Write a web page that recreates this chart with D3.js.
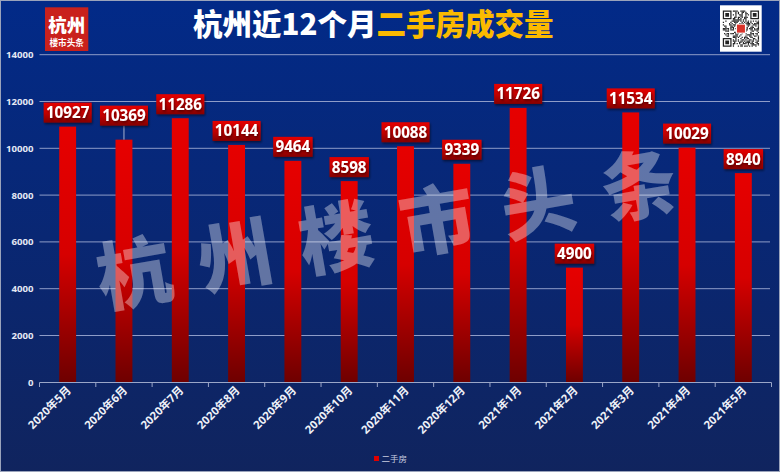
<!DOCTYPE html>
<html><head><meta charset="utf-8">
<script src="https://cdn.jsdelivr.net/npm/d3@7/dist/d3.min.js"></script>
<style>html,body{margin:0;padding:0;background:#0b2567;}svg{display:block;}</style>
</head><body><svg id="c" width="780" height="472"></svg>
<script>
const categories = ["2020年5月","2020年6月","2020年7月","2020年8月","2020年9月","2020年10月","2020年11月","2020年12月","2021年1月","2021年2月","2021年3月","2021年4月","2021年5月"];
const values = [10927,10369,11286,10144,9464,8598,10088,9339,11726,4900,11534,10029,8940];
const yTicks = [0,2000,4000,6000,8000,10000,12000,14000];
const seriesName = "二手房";
const titleWhite = "杭州近12个月";
const titleGold = "二手房成交量";
const watermark = ["杭","州","楼","市","头","条"];

const W = 780, H = 472;
const svg = d3.select("#c");
const defs = svg.append("defs");
const font = "'Noto Sans','Noto Sans CJK SC',sans-serif";

const bg = defs.append("linearGradient").attr("id","bg").attr("x1",0).attr("y1",0).attr("x2",0).attr("y2",1);
bg.append("stop").attr("offset",0).attr("stop-color","#022a88");
bg.append("stop").attr("offset",1).attr("stop-color","#10245e");
const bar = defs.append("linearGradient").attr("id","bar").attr("x1",0).attr("y1",0).attr("x2",0).attr("y2",1);
bar.append("stop").attr("offset",0).attr("stop-color","#e60000");
bar.append("stop").attr("offset",0.5).attr("stop-color","#d60000");
bar.append("stop").attr("offset",1).attr("stop-color","#6e0000");
const lab = defs.append("linearGradient").attr("id","lab").attr("x1",0).attr("y1",0).attr("x2",0).attr("y2",1);
lab.append("stop").attr("offset",0).attr("stop-color","#e40000");
lab.append("stop").attr("offset",0.5).attr("stop-color","#c40000");
lab.append("stop").attr("offset",1).attr("stop-color","#860000");
const sh = defs.append("filter").attr("id","sh").attr("x","-20%").attr("y","-20%").attr("width","140%").attr("height","160%");
sh.append("feDropShadow").attr("dx",1).attr("dy",1.5).attr("stdDeviation",1.2).attr("flood-color","#000").attr("flood-opacity",0.5);

svg.append("rect").attr("width",W).attr("height",H).attr("fill","url(#bg)");
svg.append("rect").attr("x",0.5).attr("y",0.5).attr("width",W-1).attr("height",H-1).attr("fill","none").attr("stroke","#9aa3bb").attr("stroke-width",1);

const x = d3.scaleBand().domain(categories).range([39.5,771.5]).paddingInner(0.7).paddingOuter(0.35);
const y = d3.scaleLinear().domain([0,14000]).range([382.3,54.7]);

// grid
svg.append("g").selectAll("line").data(yTicks.filter(d=>d>0)).join("line")
  .attr("x1",39.5).attr("x2",770).attr("y1",d=>y(d)).attr("y2",d=>y(d))
  .attr("stroke","#8e9cc8").attr("stroke-width",1);

// y labels
svg.append("g").selectAll("text").data(yTicks).join("text")
  .attr("x",33.5).attr("y",d=>y(d)+3.5).attr("text-anchor","end")
  .attr("font-family",font).attr("font-weight","bold").attr("font-size",9.6)
  .attr("fill","#e4e8f4").text(d=>d);

// bars
svg.append("g").selectAll("rect").data(values).join("rect")
  .attr("x",(d,i)=>x(categories[i])).attr("width",x.bandwidth())
  .attr("y",d=>y(d)).attr("height",d=>y(0)-y(d)).attr("fill","url(#bar)");

// watermark
const wm = svg.append("g").attr("transform","translate(387,231) rotate(-9.9)");
wm.selectAll("text").data(watermark).join("text")
  .attr("x",(d,i)=>(i-2.5)*102.5).attr("y",26).attr("text-anchor","middle")
  .attr("font-family","'Noto Sans CJK SC',sans-serif").attr("font-weight",900).attr("font-size",75)
  .attr("fill","#ffffff").attr("fill-opacity",0.36).text(d=>d);

// axis
const ax = svg.append("g");
ax.append("line").attr("x1",39.5).attr("x2",771.5).attr("y1",382.5).attr("y2",382.5).attr("stroke","#9aa6c8").attr("stroke-width",1.2);
const step = x.step();
ax.selectAll("line.t").data(d3.range(categories.length+1)).join("line").attr("class","t")
  .attr("x1",i=>39.5+i*step).attr("x2",i=>39.5+i*step).attr("y1",382.5).attr("y2",387)
  .attr("stroke","#9aa6c8").attr("stroke-width",1);
ax.selectAll("text").data(categories).join("text")
  .attr("transform",d=>`translate(${x(d)+x.bandwidth()/2+4},${391}) rotate(-45)`)
  .attr("text-anchor","end").attr("font-family",font).attr("font-weight","bold").attr("font-size",11.3)
  .attr("fill","#eef1f8").text(d=>d);

// value labels
const nudge = {1:10};
const lg = svg.append("g");
values.forEach((v,i)=>{
  const cx = x(categories[i])+x.bandwidth()/2;
  const top = y(v);
  const extra = nudge[i]||0;
  const s = String(v);
  const bw = s.length*8.6+5;
  const by = top-4-20-extra;
  if(extra){
    lg.append("line").attr("x1",cx).attr("x2",cx).attr("y1",by+20).attr("y2",top).attr("stroke","#a9b3cf").attr("stroke-width",1);
  }
  lg.append("rect").attr("x",cx-bw/2).attr("y",by).attr("width",bw).attr("height",20).attr("fill","url(#lab)").attr("filter","url(#sh)");
  lg.append("text").attr("x",cx).attr("y",by+15.5).attr("text-anchor","middle")
    .attr("font-family",font).attr("font-weight","bold").attr("font-size",15.2)
    .attr("fill","#fff").attr("filter","url(#sh)").text(s);
});

// logo
svg.append("rect").attr("x",45).attr("y",7.3).attr("width",43.3).attr("height",43.7).attr("fill","#c9211c");
svg.append("text").attr("x",66.7).attr("y",32).attr("text-anchor","middle").attr("font-family","'Noto Sans CJK SC',sans-serif").attr("font-weight",900).attr("font-size",18.5).attr("fill","#fff").text("杭州");
svg.append("text").attr("x",66.7).attr("y",46).attr("text-anchor","middle").attr("font-family","'Noto Sans CJK SC',sans-serif").attr("font-weight",700).attr("font-size",8.6).attr("fill","#fff").text("楼市头条");

// title
const t = svg.append("text").attr("x",193).attr("y",34.5).attr("font-family","'Noto Sans CJK SC',sans-serif").attr("font-weight",900).attr("font-size",29.5);
t.append("tspan").attr("fill","#ffffff").text(titleWhite);
t.append("tspan").attr("fill","#fbba00").text(titleGold);

// QR decoration
const qg = svg.append("g");
qg.append("rect").attr("x",720).attr("y",5.3).attr("width",41.7).attr("height",46.4).attr("fill","#fff");
const N = 29, m = 1.25, qx = 722.8, qy = 10.5;
let seed = 7;
for(let r=0;r<N;r++)for(let c=0;c<N;c++){
  seed = (seed*1103515245+12345)&0x7fffffff;
  const inFinder = (r<8&&c<8)||(r<8&&c>=N-8)||(r>=N-8&&c<8);
  if(inFinder) continue;
  if((seed>>16)%2) qg.append("rect").attr("x",qx+c*m).attr("y",qy+r*m).attr("width",m).attr("height",m).attr("fill","#222");
}
[[0,0],[0,N-7],[N-7,0]].forEach(([r,c])=>{
  qg.append("rect").attr("x",qx+c*m+m/2).attr("y",qy+r*m+m/2).attr("width",6*m).attr("height",6*m).attr("fill","none").attr("stroke","#222").attr("stroke-width",m);
  qg.append("rect").attr("x",qx+(c+2)*m).attr("y",qy+(r+2)*m).attr("width",3*m).attr("height",3*m).attr("fill","#222");
});
qg.append("rect").attr("x",qx+N*m/2-5).attr("y",qy+N*m/2-5).attr("width",10).attr("height",10).attr("fill","#fff");
qg.append("rect").attr("x",qx+N*m/2-4).attr("y",qy+N*m/2-4).attr("width",8).attr("height",8).attr("fill","#d9342b");

// legend
svg.append("rect").attr("x",374).attr("y",456).attr("width",5).attr("height",5).attr("fill","#e00000");
svg.append("text").attr("x",381.5).attr("y",461.8).attr("font-family","'Noto Sans CJK SC',sans-serif").attr("font-size",8.5).attr("fill","#c8cde0").text(seriesName);
</script></body></html>
